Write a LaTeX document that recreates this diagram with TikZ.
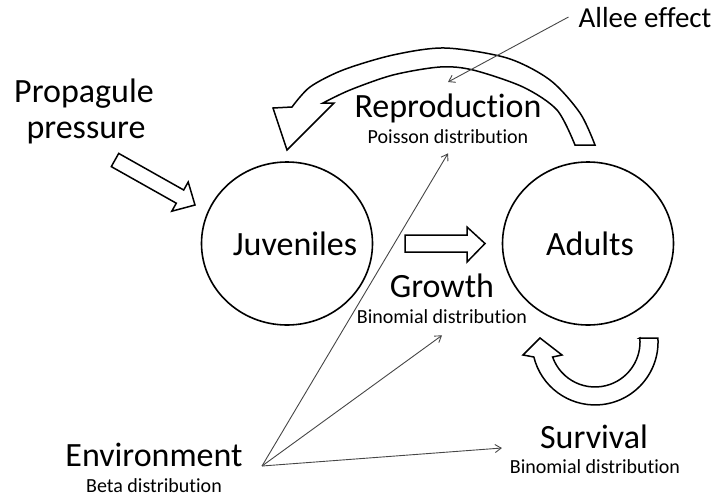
\documentclass[tikz,border=0pt]{standalone}
\usepackage{fontspec}
\setmainfont{Carlito}[Ligatures=NoCommon]
\usetikzlibrary{shapes.geometric,arrows.meta}
\definecolor{cGrey}{RGB}{70,70,70}

\begin{document}
\begin{tikzpicture}[x=1pt, y=-1pt,
        big/.style={font=\fontsize{34}{38}\selectfont, inner sep=0pt},
        mid/.style={font=\fontsize{29}{34}\selectfont, inner sep=0pt},
        small/.style={font=\fontsize{20}{24}\selectfont, inner sep=0pt},
        stage/.style={draw, ellipse, line width=1.6pt, minimum width=171pt, minimum height=163pt},
        blockarrow/.style={draw, line width=1.5pt, fill=white},
        effect/.style={-{Straight Barb[length=6pt,width=8pt]}, cGrey, line width=0.9pt}]
        \useasboundingbox (0,0) rectangle (723,499);

        % stages
        \node[stage] (juv) at (287,243.5) {};
        \node[stage] (adu) at (588,243.5) {};
        \node[big, anchor=base] (juvtxt) at (295,255) {Juveniles};
        \node[big, anchor=base] (adutxt) at (590,255) {Adults};

        % labels
        \node[big, anchor=base] (prop1) at (84,102) {Propagule};
        \node[big, anchor=base] (prop2) at (86,138) {pressure};
        \node[mid, anchor=base] (allee) at (645,27) {Allee effect};
        \node[big, anchor=base] (rep) at (448,117) {Reproduction};
        \node[small, anchor=base] (pois) at (448,143) {Poisson distribution};
        \node[big, anchor=base] (grow) at (442,297) {Growth};
        \node[small, anchor=base] (growdist) at (442,323) {Binomial distribution};
        \node[big, anchor=base] (surv) at (594,448) {Survival};
        \node[small, anchor=base] (survdist) at (595,473) {Binomial distribution};
        \node[big, anchor=base] (env) at (154,466) {Environment};
        \node[small, anchor=base] (envdist) at (154,492) {Beta distribution};

        % block arrows
        \draw[blockarrow] (118.7,153.4) -- (183.7,190) -- (188.2,182) -- (195,205)
            -- (171.8,211.2) -- (176.3,203.2) -- (111.3,166.6) -- cycle;
        \draw[blockarrow] (405,235) -- (467,235) -- (467,227) -- (485,243.5)
            -- (467,262) -- (467,252) -- (405,252) -- cycle;
        \draw[blockarrow] (595,145) -- (575,145)
            -- plot[smooth] coordinates {(575,145) (557,110) (523,87) (473,70) (440,67) (393,75) (350,90) (323,103)}
            -- (334,103) -- (287,150) -- (273,108)
            -- plot[smooth] coordinates {(292,107) (310,87) (343,70) (393,55) (445,48) (507,58) (550,80) (580,113) (595,145)}
            -- cycle;
        \draw[blockarrow] (639.8,338) -- (657.9,338)
            arc[start angle=-3.6, end angle=166.2, radius=63]
            -- (523,355) -- (540,338) -- (562,355) -- (552.6,357)
            arc[start angle=160.5, end angle=-5.1, radius=45] -- cycle;

        % effects
        \coordinate (envsrc) at (262,466);
        \coordinate (alleetip) at (448,82);
        \draw[effect] ([xshift=-10pt]allee.west) -- (alleetip);
        \draw[effect] (envsrc) -- ([yshift=-10pt]pois.south);
        \draw[effect] (envsrc) -- ([yshift=-12pt]growdist.south);
        \draw[effect] (envsrc) -- ([xshift=-38pt]surv.base west);
    \end{tikzpicture}
\end{document}
